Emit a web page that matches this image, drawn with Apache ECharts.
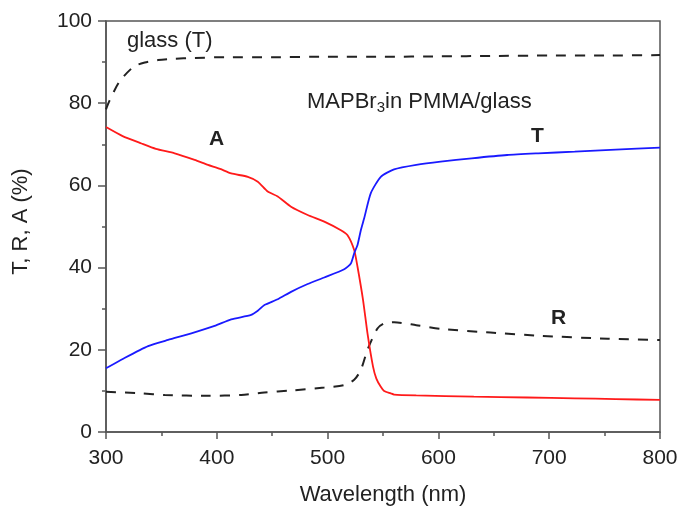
<!DOCTYPE html>
<html><head><meta charset="utf-8">
<script src="https://cdn.jsdelivr.net/npm/echarts@6/dist/echarts.min.js"></script>
<style>html,body{margin:0;padding:0;background:#fff}#c{width:679px;height:507px}</style>
</head><body><div id="c"></div>
<script>
// Glass transmittance (dashed)
const glassWl = [300, 303, 312, 325, 335, 347, 360, 380, 407, 450, 500, 551, 600, 650, 700, 750, 800];
const glassT  = [78.5, 80.5, 85.2, 88.9, 89.9, 90.5, 90.8, 91.0, 91.2, 91.2, 91.3, 91.3, 91.4, 91.5, 91.6, 91.6, 91.7];
// Absorbance (red)
const aWl = [300, 315, 332, 345, 362, 380, 392, 403, 413, 428, 437, 446, 455, 467, 482, 497, 512, 518, 524, 527, 532, 536, 541, 544, 548, 551, 557, 560, 580, 632, 680, 723, 760, 800];
const aVal = [74.2, 72.0, 70.2, 68.9, 67.8, 66.2, 65.0, 64.0, 62.9, 62.1, 60.9, 58.5, 57.3, 54.8, 52.8, 51.2, 49.1, 47.9, 44.3, 40.2, 32.1, 24.0, 15.9, 13.0, 11.0, 10.0, 9.4, 9.1, 8.9, 8.6, 8.4, 8.2, 8.0, 7.8];
// Transmittance (blue)
const tWl = [300, 316, 338, 356, 377, 398, 413, 431, 437, 443, 455, 467, 482, 497, 515, 521, 524, 527, 530, 533, 539, 548, 560, 580, 602, 630, 662, 690, 723, 760, 800];
const tVal = [15.5, 17.9, 20.9, 22.4, 24.0, 25.8, 27.4, 28.5, 29.5, 30.9, 32.3, 34.1, 36.0, 37.6, 39.6, 41.0, 43.5, 45.5, 49.1, 52.0, 58.1, 62.1, 63.9, 65.0, 65.8, 66.6, 67.4, 67.8, 68.2, 68.7, 69.2];
// Reflectance (dashed)
const rWl = [300, 332, 353, 392, 422, 443, 467, 497, 515, 524, 530, 536, 545, 551, 560, 580, 602, 647, 693, 753, 800];
const rVal = [9.8, 9.4, 9.0, 8.8, 9.0, 9.6, 10.1, 10.8, 11.4, 12.7, 15.1, 20.0, 25.2, 26.4, 26.7, 26.0, 25.1, 24.2, 23.4, 22.7, 22.4];

const xTicks = [300, 400, 500, 600, 700, 800];
const yTicks = [0, 20, 40, 60, 80, 100];

const zip = (a, b) => a.map((v, i) => [v, b[i]]);
const axisCol = '#555';
const txtCol = '#222';
const font = 'Liberation Sans, Arial, sans-serif';

const chart = echarts.init(document.getElementById('c'));
chart.setOption({
  animation: false,
  grid: { left: 106, right: 19, top: 21, bottom: 75, show: true, borderColor: axisCol, borderWidth: 1.5,
          containLabel: false, outerBoundsMode: 'none' },
  xAxis: {
    type: 'value', min: xTicks[0], max: xTicks[xTicks.length - 1], interval: 100,
    name: 'Wavelength (nm)', nameLocation: 'middle', nameGap: 52,
    nameTextStyle: { fontSize: 22, color: txtCol, fontFamily: font },
    axisLine: { lineStyle: { color: axisCol, width: 1.5 } },
    axisTick: { length: 7, lineStyle: { color: axisCol, width: 1.5 } },
    minorTick: { show: true, splitNumber: 2, length: 4, lineStyle: { color: axisCol, width: 1.5 } },
    axisLabel: { fontSize: 21, color: txtCol, fontFamily: font, margin: 16 },
    splitLine: { show: false }
  },
  yAxis: {
    type: 'value', min: yTicks[0], max: yTicks[yTicks.length - 1], interval: 20,
    name: 'T, R, A (%)', nameLocation: 'middle', nameGap: 74, nameRotate: 90,
    nameTextStyle: { fontSize: 22, color: txtCol, fontFamily: font, padding: [0, 0, 0, 10] },
    axisLine: { show: true, lineStyle: { color: axisCol, width: 1.5 } },
    axisTick: { show: true, length: 8, lineStyle: { color: axisCol, width: 1.5 } },
    minorTick: { show: true, splitNumber: 2, length: 4, lineStyle: { color: axisCol, width: 1.5 } },
    axisLabel: { fontSize: 21, color: txtCol, fontFamily: font, margin: 14 },
    splitLine: { show: false }
  },
  series: [
    { type: 'line', data: zip(glassWl, glassT), smooth: 0.25, showSymbol: false,
      lineStyle: { color: '#222', width: 2, type: [10, 9] } },
    { type: 'line', data: zip(rWl, rVal), smooth: 0.25, showSymbol: false,
      lineStyle: { color: '#222', width: 2, type: [10, 9] } },
    { type: 'line', data: zip(aWl, aVal), smooth: 0.2, showSymbol: false,
      lineStyle: { color: '#ff1a1a', width: 1.8 } },
    { type: 'line', data: zip(tWl, tVal), smooth: 0.2, showSymbol: false,
      lineStyle: { color: '#1a1aff', width: 1.8 } }
  ],
  graphic: [
    { type: 'text', left: 127, top: 30, style: { text: 'glass (T)', fontSize: 22, fill: txtCol, fontFamily: font } },
    { type: 'text', left: 307, top: 91, style: {
        text: 'MAPBr{sub|3}in PMMA/glass', fontSize: 22, fill: txtCol, fontFamily: font,
        rich: { sub: { fontSize: 15, padding: [12, 0, 0, 0], fill: txtCol, fontFamily: font } } } },
    { type: 'text', left: 209, top: 129, style: { text: 'A', fontSize: 21, fontWeight: 'bold', fill: txtCol, fontFamily: font } },
    { type: 'text', left: 531, top: 126, style: { text: 'T', fontSize: 21, fontWeight: 'bold', fill: txtCol, fontFamily: font } },
    { type: 'text', left: 551, top: 308, style: { text: 'R', fontSize: 21, fontWeight: 'bold', fill: txtCol, fontFamily: font } }
  ]
});
</script></body></html>
